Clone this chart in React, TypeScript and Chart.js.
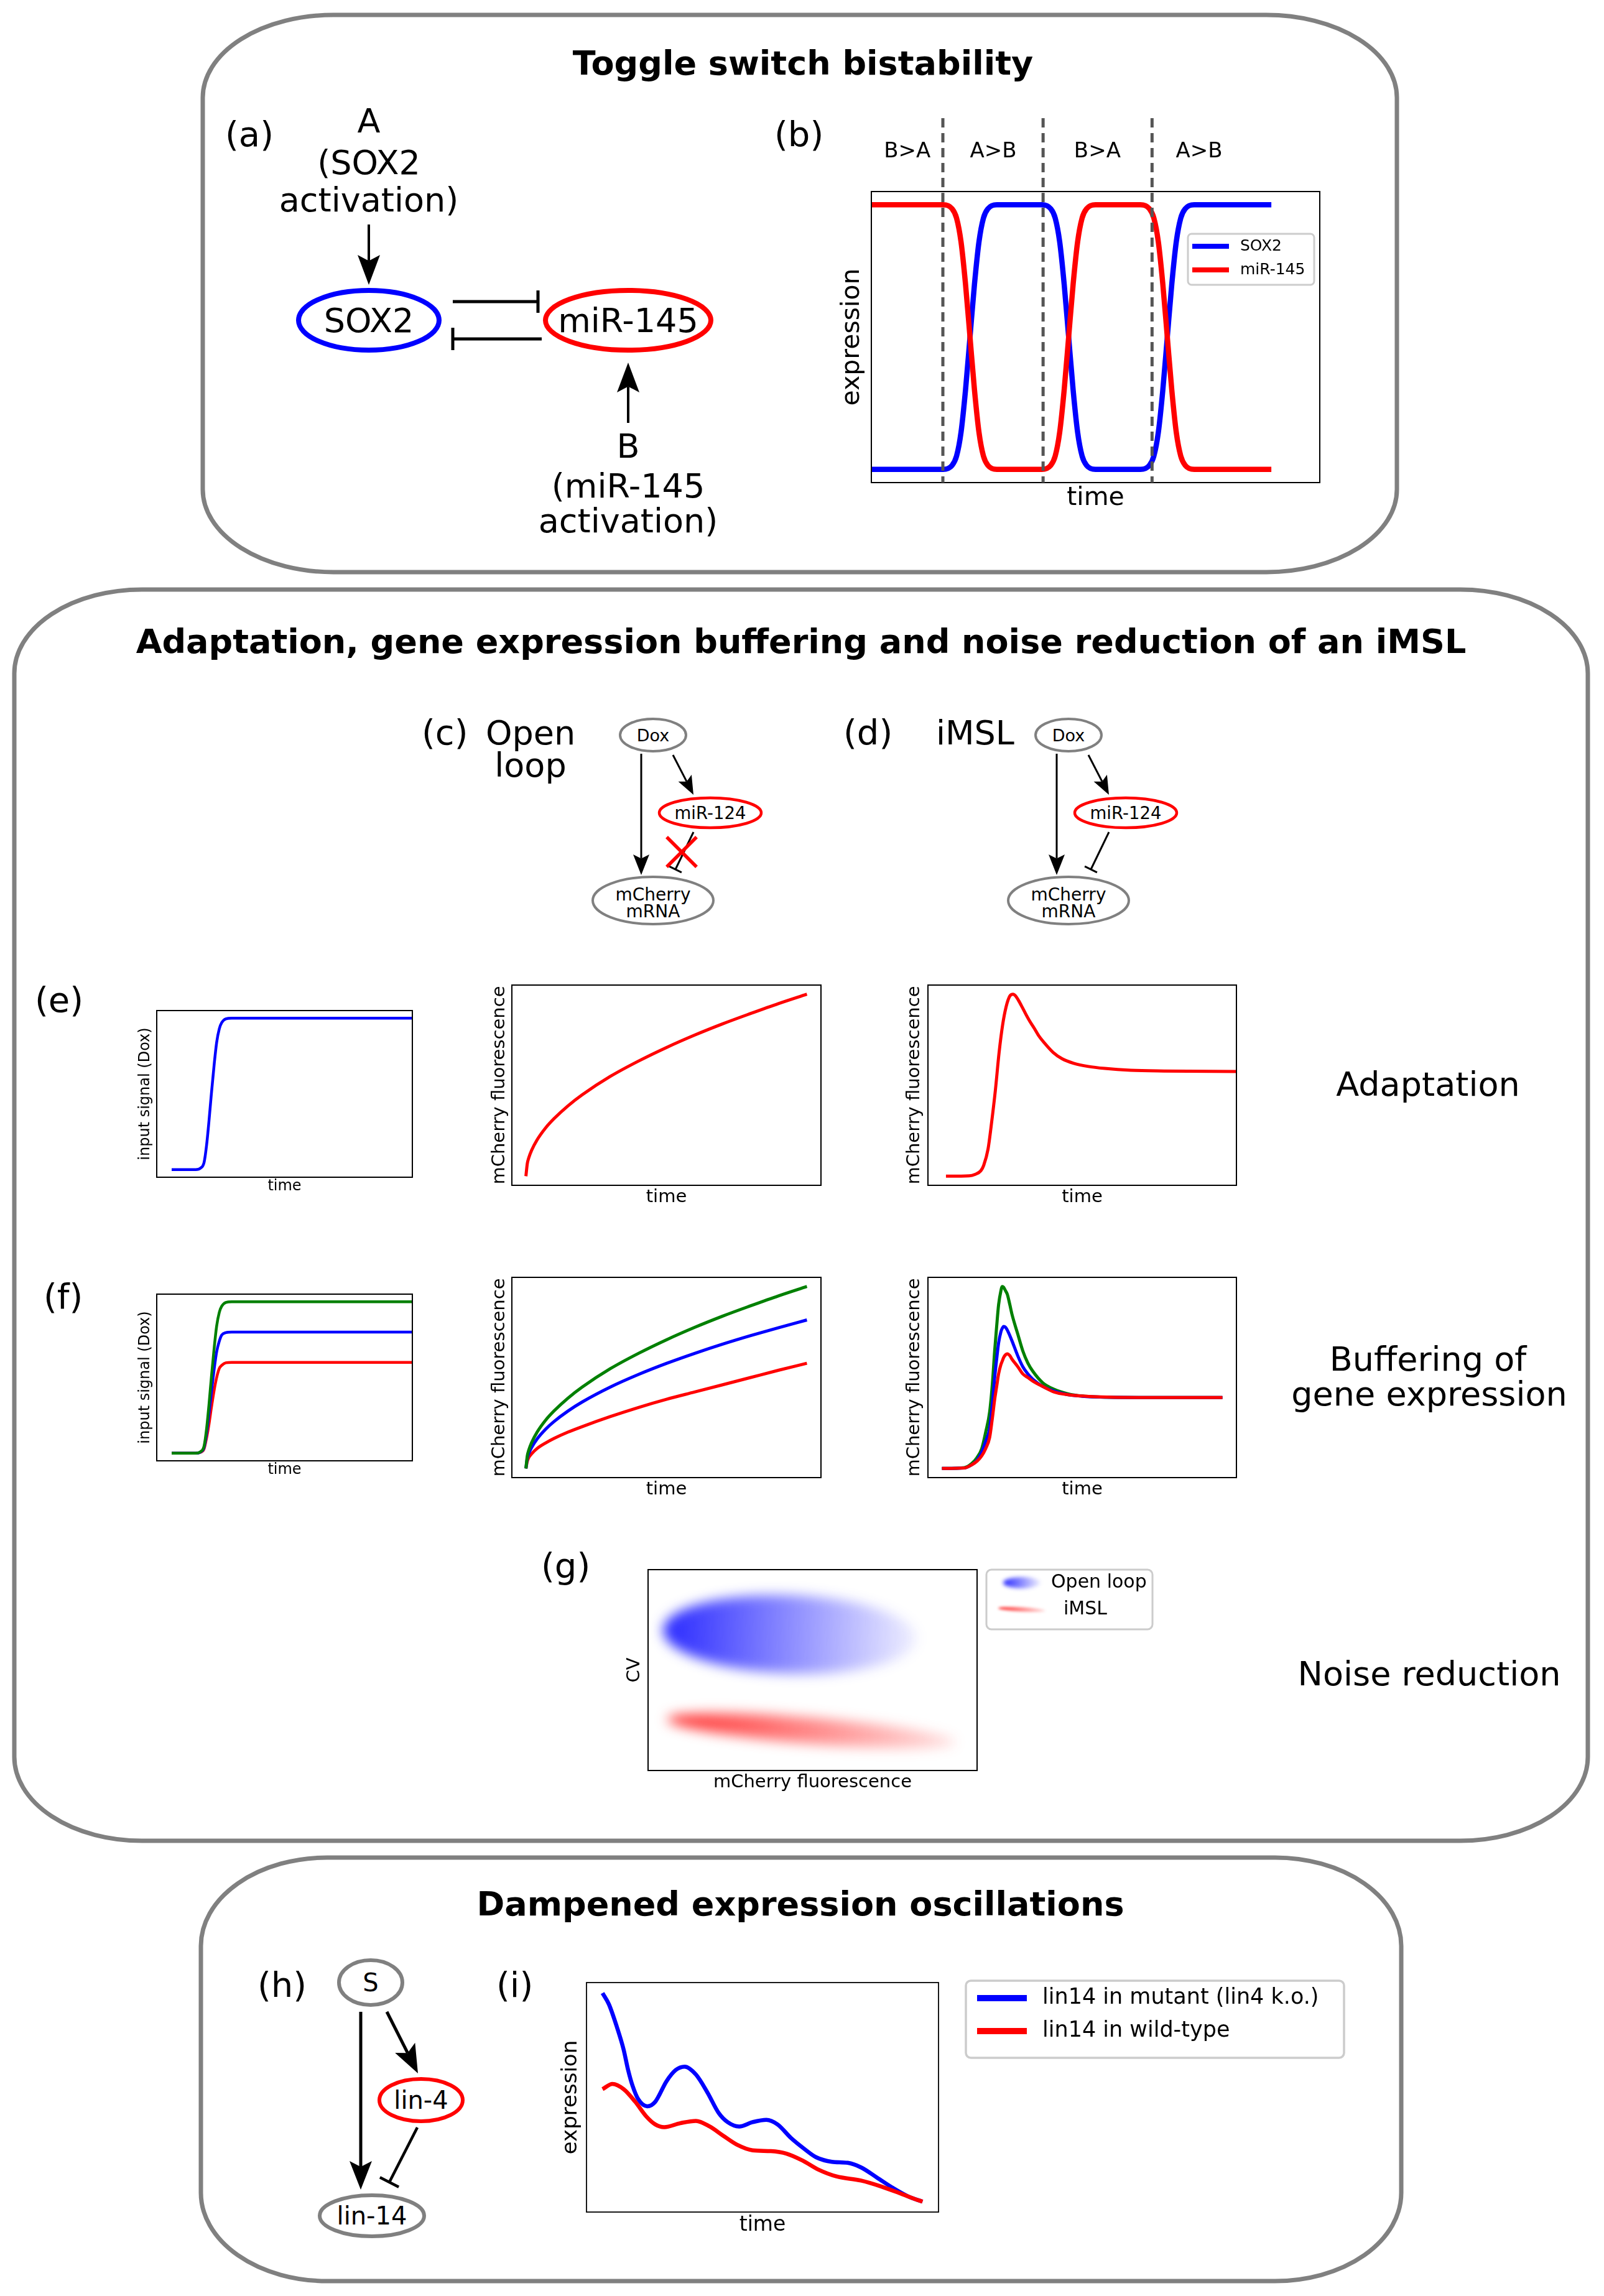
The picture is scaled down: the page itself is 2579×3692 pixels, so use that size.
import React, { useEffect, useRef } from "react";
import { Chart, registerables } from "chart.js";

Chart.register(...registerables);

const FONT = '"DejaVu Sans", "Liberation Sans", sans-serif';
Chart.defaults.font.family = FONT;
Chart.defaults.color = "#000";

// ================= DATA =================
// (b) toggle switch
const toggleTime = [0, 15, 16, 18, 19, 20, 21, 22, 23, 24, 25, 26, 28, 38, 40, 41, 42, 43, 44, 45, 46, 47, 48, 50, 60, 62, 63, 64, 65, 66, 67, 68, 69, 70, 72, 89.2];
const toggleSox2 = [0, 0, 0, 0.015, 0.05, 0.14, 0.3, 0.5, 0.7, 0.86, 0.95, 0.985, 1, 1, 0.985, 0.95, 0.86, 0.7, 0.5, 0.3, 0.14, 0.05, 0.015, 0, 0, 0.015, 0.05, 0.14, 0.3, 0.5, 0.7, 0.86, 0.95, 0.985, 1, 1];
const toggleMir145 = [1, 1, 1, 0.985, 0.95, 0.86, 0.7, 0.5, 0.3, 0.14, 0.05, 0.015, 0, 0, 0.015, 0.05, 0.14, 0.3, 0.5, 0.7, 0.86, 0.95, 0.985, 1, 1, 0.985, 0.95, 0.86, 0.7, 0.5, 0.3, 0.14, 0.05, 0.015, 0, 0];
const phaseBounds = [15.95, 38.3, 62.6];
const phaseNames = ["B>A", "A>B", "B>A", "A>B"];
const phaseNameAt = [8, 27.2, 50.4, 73.1];

// (e)/(f) input signal
const inputTime = [0, 0.1, 0.12, 0.135, 0.145, 0.155, 0.165, 0.177, 0.187, 0.198, 0.208, 0.225, 0.25, 1];
const eInput = [0, 0, 0.01, 0.05, 0.16, 0.32, 0.5, 0.7, 0.84, 0.93, 0.97, 0.995, 1, 1];
const fInputHigh = [0, 0, 0.01, 0.05, 0.16, 0.32, 0.5, 0.7, 0.84, 0.93, 0.97, 0.995, 1, 1];
const fInputMid = [0, 0, 0.008, 0.04, 0.13, 0.26, 0.4, 0.56, 0.67, 0.74, 0.78, 0.796, 0.8, 0.8];
const fInputLow = [0, 0, 0.006, 0.03, 0.1, 0.19, 0.3, 0.42, 0.5, 0.56, 0.58, 0.597, 0.6, 0.6];

// (e)/(f) open loop mCherry
const openTime = [0, 0.005, 0.01, 0.02, 0.04, 0.07, 0.1, 0.15, 0.2, 0.3, 0.4, 0.5, 0.6, 0.7, 0.8, 0.9, 1];
const eOpen = [0, 0.07, 0.1, 0.141, 0.2, 0.265, 0.316, 0.387, 0.447, 0.548, 0.632, 0.707, 0.775, 0.837, 0.894, 0.949, 1];
const fOpenHigh = [0, 0.07, 0.1, 0.141, 0.2, 0.265, 0.316, 0.387, 0.447, 0.548, 0.632, 0.707, 0.775, 0.837, 0.894, 0.949, 1];
const fOpenMid = [0, 0.058, 0.082, 0.115, 0.163, 0.216, 0.258, 0.316, 0.365, 0.447, 0.516, 0.577, 0.632, 0.683, 0.73, 0.774, 0.816];
const fOpenLow = [0, 0.04, 0.06, 0.08, 0.11, 0.14, 0.165, 0.2, 0.23, 0.285, 0.335, 0.38, 0.42, 0.46, 0.5, 0.54, 0.578];

// (e) iMSL mCherry
const eImslTime = [0, 0.08, 0.1, 0.12, 0.13, 0.145, 0.156, 0.17, 0.183, 0.195, 0.207, 0.22, 0.231, 0.24, 0.25, 0.262, 0.275, 0.289, 0.305, 0.32, 0.34, 0.369, 0.4, 0.44, 0.49, 0.547, 0.636, 0.75, 1];
const eImsl = [0, 0.002, 0.01, 0.03, 0.06, 0.15, 0.28, 0.47, 0.68, 0.83, 0.93, 0.99, 1.0, 0.99, 0.965, 0.93, 0.89, 0.85, 0.81, 0.77, 0.73, 0.68, 0.645, 0.62, 0.603, 0.592, 0.582, 0.578, 0.575];

// (f) iMSL mCherry
const fImslTime = [0, 0.08, 0.106, 0.125, 0.142, 0.156, 0.17, 0.18, 0.188, 0.195, 0.202, 0.21, 0.215, 0.22, 0.227, 0.233, 0.242, 0.25, 0.27, 0.288, 0.306, 0.324, 0.36, 0.4, 0.45, 0.5, 0.55, 0.7, 1];
const fImslHigh = [0, 0.005, 0.027, 0.06, 0.11, 0.2, 0.31, 0.47, 0.647, 0.78, 0.9, 0.975, 1.0, 0.995, 0.975, 0.957, 0.9, 0.845, 0.74, 0.647, 0.58, 0.534, 0.47, 0.435, 0.41, 0.398, 0.393, 0.39, 0.39];
const fImslMid = [0, 0.003, 0.02, 0.045, 0.09, 0.15, 0.22, 0.36, 0.5, 0.6, 0.69, 0.75, 0.77, 0.78, 0.775, 0.76, 0.73, 0.7, 0.62, 0.56, 0.52, 0.49, 0.45, 0.425, 0.405, 0.397, 0.393, 0.39, 0.39];
const fImslLow = [0, 0.003, 0.02, 0.04, 0.07, 0.11, 0.17, 0.28, 0.38, 0.45, 0.52, 0.57, 0.59, 0.61, 0.625, 0.63, 0.62, 0.6, 0.56, 0.52, 0.5, 0.48, 0.45, 0.42, 0.405, 0.398, 0.394, 0.39, 0.39];

// (g) noise clouds
const cloudNames = ["Open loop", "iMSL"];
const cloudCenterX = [0.431, 0.497];
const cloudCenterY = [0.678, 0.198];
const cloudSpreadX = [0.385, 0.44];
const cloudSpreadY = [0.195, 0.065];
const cloudTiltDeg = [2, 4.6];

// (i) dampened oscillations
const mutantTime = [0, 0.02, 0.045, 0.066, 0.08, 0.094, 0.112, 0.14, 0.165, 0.2, 0.229, 0.257, 0.292, 0.328, 0.363, 0.391, 0.427, 0.469, 0.512, 0.547, 0.589, 0.632, 0.667, 0.717, 0.766, 0.808, 0.858, 0.907, 0.955, 1];
const mutantLin14 = [1.0, 0.946, 0.837, 0.729, 0.631, 0.555, 0.49, 0.457, 0.479, 0.577, 0.631, 0.647, 0.609, 0.523, 0.425, 0.381, 0.36, 0.381, 0.392, 0.37, 0.305, 0.251, 0.213, 0.191, 0.186, 0.164, 0.115, 0.066, 0.025, 0];
const wildTime = [0, 0.031, 0.066, 0.102, 0.137, 0.165, 0.193, 0.243, 0.292, 0.335, 0.377, 0.42, 0.469, 0.526, 0.575, 0.625, 0.674, 0.731, 0.808, 0.872, 0.929, 0.977, 1];
const wildLin14 = [0.539, 0.564, 0.539, 0.479, 0.408, 0.37, 0.357, 0.376, 0.387, 0.36, 0.316, 0.273, 0.246, 0.242, 0.23, 0.197, 0.154, 0.121, 0.101, 0.072, 0.04, 0.012, 0];

// ================= HELPERS =================
type Box = { l: number; t: number; r: number; b: number };

const BLUE = "#0000ff";
const RED = "#ff0000";
const GREEN = "#008000";

function pts(xs: number[], ys: number[]) {
  return xs.map((x, i) => ({ x, y: ys[i] }));
}

function lineDs(label: string, xs: number[], ys: number[], color: string, width: number, order = 0) {
  return {
    label,
    data: pts(xs, ys),
    borderColor: color,
    backgroundColor: color,
    borderWidth: width,
    pointRadius: 0,
    pointHoverRadius: 0,
    cubicInterpolationMode: "monotone",
    fill: false,
    order,
  };
}

const framePlugin = {
  id: "frame",
  afterDatasetsDraw(chart: any, _a: any, o: any) {
    const { ctx, chartArea: a } = chart;
    ctx.save();
    ctx.strokeStyle = "#000";
    ctx.lineWidth = (o && o.width) || 2;
    ctx.strokeRect(a.left, a.top, a.right - a.left, a.bottom - a.top);
    ctx.restore();
  },
};

const phasePlugin = {
  id: "phases",
  afterDatasetsDraw(chart: any, _a: any, o: any) {
    if (!o || !o.bounds) return;
    const { ctx, chartArea: a } = chart;
    const x = chart.scales.x;
    ctx.save();
    ctx.strokeStyle = o.color;
    ctx.lineWidth = o.width;
    ctx.setLineDash(o.dash);
    o.bounds.forEach((v: number) => {
      const px = x.getPixelForValue(v);
      ctx.beginPath();
      ctx.moveTo(px, a.top - o.above);
      ctx.lineTo(px, a.bottom);
      ctx.stroke();
    });
    ctx.setLineDash([]);
    ctx.fillStyle = "#000";
    ctx.font = `${o.fontSize}px ${FONT}`;
    ctx.textAlign = "center";
    ctx.textBaseline = "alphabetic";
    o.labels.forEach((s: string, i: number) => {
      ctx.fillText(s, x.getPixelForValue(o.labelAt[i]), a.top - o.labelRise);
    });
    ctx.restore();
  },
};

const lineLegendPlugin = {
  id: "lineLegend",
  afterDraw(chart: any, _a: any, o: any) {
    if (!o || !o.box) return;
    const ctx = chart.ctx;
    ctx.save();
    ctx.beginPath();
    ctx.roundRect(o.box.l, o.box.t, o.box.r - o.box.l, o.box.b - o.box.t, o.radius);
    ctx.fillStyle = "#ffffff";
    ctx.fill();
    ctx.strokeStyle = "#cccccc";
    ctx.lineWidth = o.borderWidth;
    ctx.stroke();
    ctx.font = `${o.fontSize}px ${FONT}`;
    ctx.textBaseline = "middle";
    ctx.textAlign = "left";
    chart.data.datasets.forEach((ds: any, i: number) => {
      const y = o.rows[i];
      ctx.strokeStyle = ds.borderColor;
      ctx.lineWidth = o.lineWidth;
      ctx.beginPath();
      ctx.moveTo(o.lineX[0], y);
      ctx.lineTo(o.lineX[1], y);
      ctx.stroke();
      ctx.fillStyle = "#000";
      ctx.fillText(ds.label, o.textX, y);
    });
    ctx.restore();
  },
};

function drawCloud(ctx: any, cx: number, cy: number, rx: number, ry: number, tilt: number, rgb: string, a0: number, a1: number, blur: number) {
  ctx.save();
  ctx.filter = `blur(${blur}px)`;
  ctx.translate(cx, cy);
  ctx.rotate((tilt * Math.PI) / 180);
  const g = ctx.createLinearGradient(-rx, 0, rx, 0);
  g.addColorStop(0, `rgba(${rgb},${a0})`);
  g.addColorStop(1, `rgba(${rgb},${a1})`);
  ctx.fillStyle = g;
  ctx.beginPath();
  ctx.ellipse(0, 0, rx, ry, 0, 0, Math.PI * 2);
  ctx.fill();
  ctx.restore();
}

const cloudPlugin = {
  id: "clouds",
  beforeDatasetsDraw(chart: any, _a: any, o: any) {
    if (!o) return;
    const { ctx, chartArea: a } = chart;
    const xs = chart.scales.x;
    const ys = chart.scales.y;
    ctx.save();
    ctx.beginPath();
    ctx.rect(a.left, a.top, a.right - a.left, a.bottom - a.top);
    ctx.clip();
    chart.data.datasets.forEach((ds: any) => {
      const p = ds.data[0];
      const cx = xs.getPixelForValue(p.x);
      const cy = ys.getPixelForValue(p.y);
      const rx = Math.abs(xs.getPixelForValue(p.x + ds.spreadX) - cx);
      const ry = Math.abs(ys.getPixelForValue(p.y + ds.spreadY) - cy);
      drawCloud(ctx, cx, cy, rx, ry, ds.tilt, ds.cloudRgb, ds.alphaFrom, ds.alphaTo, o.blur);
    });
    ctx.restore();
  },
  afterDraw(chart: any, _a: any, o: any) {
    if (!o || !o.legend) return;
    const L = o.legend;
    const ctx = chart.ctx;
    ctx.save();
    ctx.beginPath();
    ctx.roundRect(L.box.l, L.box.t, L.box.r - L.box.l, L.box.b - L.box.t, 8);
    ctx.fillStyle = "#fff";
    ctx.fill();
    ctx.strokeStyle = "#cccccc";
    ctx.lineWidth = 3;
    ctx.stroke();
    ctx.restore();
    chart.data.datasets.forEach((ds: any, i: number) => {
      const ic = L.icons[i];
      drawCloud(ctx, ic.x, ic.y, ic.rx, ic.ry, ic.tilt, ds.cloudRgb, ds.alphaFrom, ds.alphaTo, ic.blur);
      ctx.save();
      ctx.fillStyle = "#000";
      ctx.font = `${L.fontSize}px ${FONT}`;
      ctx.textBaseline = "middle";
      ctx.textAlign = "left";
      ctx.fillText(ds.label, L.textX[i], ic.y);
      ctx.restore();
    });
  },
};

function makeConfig(p: any) {
  const { box, canvas } = p;
  const padding = {
    left: box.l - canvas.l - p.yGap - p.yFont / 2,
    right: canvas.r - box.r,
    top: box.t - canvas.t,
    bottom: canvas.b - box.b - p.xGap - p.xFont / 2,
  };
  return {
    type: "line",
    data: { datasets: p.datasets },
    options: {
      animation: false,
      responsive: false,
      maintainAspectRatio: false,
      devicePixelRatio: 1,
      events: [],
      layout: { padding, autoPadding: false },
      scales: {
        x: {
          type: "linear",
          min: p.xRange[0],
          max: p.xRange[1],
          grid: { display: false, drawTicks: false },
          border: { display: false },
          ticks: { display: false },
          title: {
            display: true,
            text: p.xTitle,
            color: "#000",
            font: { family: FONT, size: p.xFont, lineHeight: 1 },
            padding: { top: p.xGap - p.xFont / 2, bottom: 0 },
          },
        },
        y: {
          type: "linear",
          min: p.yRange[0],
          max: p.yRange[1],
          grid: { display: false, drawTicks: false },
          border: { display: false },
          ticks: { display: false },
          title: {
            display: true,
            text: p.yTitle,
            color: "#000",
            font: { family: FONT, size: p.yFont, lineHeight: 1 },
            padding: { top: 0, bottom: p.yGap - p.yFont / 2 },
          },
        },
      },
      plugins: {
        legend: { display: false },
        tooltip: { enabled: false },
        frame: { width: p.frameWidth || 2 },
        ...(p.pluginOpts || {}),
      },
    },
    plugins: [framePlugin, ...(p.plugins || [])],
  };
}

function ChartBox({ canvas, build }: { canvas: Box; build: () => any }) {
  const ref = useRef<HTMLCanvasElement>(null);
  useEffect(() => {
    const c = new Chart(ref.current as HTMLCanvasElement, build());
    return () => c.destroy();
  }, []);
  const w = canvas.r - canvas.l;
  const h = canvas.b - canvas.t;
  return (
    <canvas
      ref={ref}
      width={w}
      height={h}
      style={{ position: "absolute", left: canvas.l, top: canvas.t, width: w, height: h }}
    />
  );
}

// ================= CHART DEFINITIONS =================
const toggleBox: Box = { l: 1401, t: 308, r: 2122, b: 776 };
const toggleCanvas: Box = { l: 1345, t: 180, r: 2130, b: 826 };
const buildToggle = () =>
  makeConfig({
    box: toggleBox,
    canvas: toggleCanvas,
    datasets: [
      lineDs("SOX2", toggleTime, toggleSox2, BLUE, 8.5, 1),
      lineDs("miR-145", toggleTime, toggleMir145, RED, 8.5, 0),
    ],
    xRange: [0, 100],
    yRange: [-0.05, 1.05],
    xTitle: "time",
    xFont: 41,
    xGap: 25,
    yTitle: "expression",
    yFont: 41,
    yGap: 31,
    plugins: [phasePlugin, lineLegendPlugin],
    pluginOpts: {
      phases: {
        bounds: phaseBounds,
        labels: phaseNames,
        labelAt: phaseNameAt,
        color: "#555555",
        width: 5,
        dash: [15, 9],
        above: 118,
        labelRise: 55,
        fontSize: 34,
      },
      lineLegend: {
        box: { l: 1910 - 1345, t: 376 - 180, r: 2113 - 1345, b: 458 - 180 },
        radius: 6,
        borderWidth: 3,
        rows: [396 - 180, 434 - 180],
        lineX: [1917 - 1345, 1976 - 1345],
        lineWidth: 8,
        textX: 1994 - 1345,
        fontSize: 25,
      },
    },
  });

const inputAxes = { xTitle: "time", xFont: 24, xGap: 15, yTitle: "input signal (Dox)", yFont: 24, yGap: 18 };
const fluoAxesOpen = { xTitle: "time", xFont: 29, xGap: 19, yTitle: "mCherry fluorescence", yFont: 29, yGap: 20 };
const fluoAxesImsl = { xTitle: "time", xFont: 29, xGap: 19, yTitle: "mCherry fluorescence", yFont: 29, yGap: 22 };

const eInputBox: Box = { l: 252, t: 1625, r: 663, b: 1893 };
const eInputCanvas: Box = { l: 218, t: 1615, r: 673, b: 1924 };
const buildEInput = () =>
  makeConfig({
    box: eInputBox,
    canvas: eInputCanvas,
    datasets: [lineDs("input", inputTime, eInput, BLUE, 4.5)],
    xRange: [-0.062, 1],
    yRange: [-0.05, 1.05],
    ...inputAxes,
  });

const eOpenBox: Box = { l: 823, t: 1584, r: 1320, b: 1906 };
const eOpenCanvas: Box = { l: 784, t: 1574, r: 1330, b: 1944 };
const buildEOpen = () =>
  makeConfig({
    box: eOpenBox,
    canvas: eOpenCanvas,
    datasets: [lineDs("open loop", openTime, eOpen, RED, 5)],
    xRange: [-0.05, 1.05],
    yRange: [-0.05, 1.05],
    ...fluoAxesOpen,
  });

const eImslBox: Box = { l: 1492, t: 1584, r: 1988, b: 1906 };
const eImslCanvas: Box = { l: 1451, t: 1574, r: 1998, b: 1944 };
const buildEImsl = () =>
  makeConfig({
    box: eImslBox,
    canvas: eImslCanvas,
    datasets: [lineDs("iMSL", eImslTime, eImsl, RED, 5)],
    xRange: [-0.062, 1],
    yRange: [-0.05, 1.05],
    ...fluoAxesImsl,
  });

const fInputBox: Box = { l: 252, t: 2081, r: 663, b: 2349 };
const fInputCanvas: Box = { l: 218, t: 2071, r: 673, b: 2380 };
const buildFInput = () =>
  makeConfig({
    box: fInputBox,
    canvas: fInputCanvas,
    datasets: [
      lineDs("high", inputTime, fInputHigh, GREEN, 4.5, 0),
      lineDs("mid", inputTime, fInputMid, BLUE, 4.5, 1),
      lineDs("low", inputTime, fInputLow, RED, 4.5, 2),
    ],
    xRange: [-0.062, 1],
    yRange: [-0.05, 1.05],
    ...inputAxes,
  });

const fOpenBox: Box = { l: 823, t: 2054, r: 1320, b: 2376 };
const fOpenCanvas: Box = { l: 784, t: 2044, r: 1330, b: 2414 };
const buildFOpen = () =>
  makeConfig({
    box: fOpenBox,
    canvas: fOpenCanvas,
    datasets: [
      lineDs("high", openTime, fOpenHigh, GREEN, 5, 0),
      lineDs("mid", openTime, fOpenMid, BLUE, 5, 1),
      lineDs("low", openTime, fOpenLow, RED, 5, 2),
    ],
    xRange: [-0.05, 1.05],
    yRange: [-0.05, 1.05],
    ...fluoAxesOpen,
  });

const fImslBox: Box = { l: 1492, t: 2054, r: 1988, b: 2376 };
const fImslCanvas: Box = { l: 1451, t: 2044, r: 1998, b: 2414 };
const buildFImsl = () =>
  makeConfig({
    box: fImslBox,
    canvas: fImslCanvas,
    datasets: [
      lineDs("high", fImslTime, fImslHigh, GREEN, 5, 2),
      lineDs("mid", fImslTime, fImslMid, BLUE, 5, 1),
      lineDs("low", fImslTime, fImslLow, RED, 5, 0),
    ],
    xRange: [-0.05, 1.05],
    yRange: [-0.05, 1.05],
    ...fluoAxesImsl,
  });

const gBox: Box = { l: 1042, t: 2524, r: 1571, b: 2847 };
const gCanvas: Box = { l: 1001, t: 2514, r: 1870, b: 2885 };
const cloudStyles = [
  { rgb: "30,30,255", a0: 0.95, a1: 0.07 },
  { rgb: "255,40,40", a0: 0.95, a1: 0.14 },
];
const buildG = () =>
  makeConfig({
    box: gBox,
    canvas: gCanvas,
    datasets: cloudNames.map((name, i) => ({
      label: name,
      data: [{ x: cloudCenterX[i], y: cloudCenterY[i] }],
      showLine: false,
      pointRadius: 0,
      spreadX: cloudSpreadX[i],
      spreadY: cloudSpreadY[i],
      tilt: cloudTiltDeg[i],
      cloudRgb: cloudStyles[i].rgb,
      alphaFrom: cloudStyles[i].a0,
      alphaTo: cloudStyles[i].a1,
    })),
    xRange: [0, 1],
    yRange: [0, 1],
    xTitle: "mCherry fluorescence",
    xFont: 29,
    xGap: 19,
    yTitle: "CV",
    yFont: 29,
    yGap: 22,
    plugins: [cloudPlugin],
    pluginOpts: {
      clouds: {
        blur: 10,
        legend: {
          box: { l: 1586 - 1001, t: 2524 - 2514, r: 1853 - 1001, b: 2620 - 2514 },
          icons: [
            { x: 1643 - 1001, y: 2545 - 2514, rx: 30, ry: 9, tilt: 0, blur: 3 },
            { x: 1643 - 1001, y: 2588 - 2514, rx: 38, ry: 3.5, tilt: 3, blur: 2 },
          ],
          textX: [1690 - 1001, 1710 - 1001],
          fontSize: 30,
        },
      },
    },
  });

const iBox: Box = { l: 943, t: 3188, r: 1509, b: 3557 };
const iCanvas: Box = { l: 897, t: 3178, r: 2175, b: 3599 };
const buildI = () =>
  makeConfig({
    box: iBox,
    canvas: iCanvas,
    datasets: [
      lineDs("lin14 in mutant (lin4 k.o.)", mutantTime, mutantLin14, BLUE, 6.5, 1),
      lineDs("lin14 in wild-type", wildTime, wildLin14, RED, 6.5, 0),
    ],
    xRange: [-0.05, 1.05],
    yRange: [-0.05, 1.05],
    xTitle: "time",
    xFont: 33,
    xGap: 21,
    yTitle: "expression",
    yFont: 34,
    yGap: 25,
    frameWidth: 1.8,
    plugins: [lineLegendPlugin],
    pluginOpts: {
      lineLegend: {
        box: { l: 1553 - 897, t: 3185 - 3178, r: 2161 - 897, b: 3309 - 3178 },
        radius: 8,
        borderWidth: 3.5,
        rows: [3213 - 3178, 3266 - 3178],
        lineX: [1571 - 897, 1651 - 897],
        lineWidth: 10,
        textX: 1676 - 897,
        fontSize: 35,
      },
    },
  });

// ================= DIAGRAM PIECES (SVG) =================
function Arrow({ x1, y1, x2, y2, w, len, hw }: any) {
  const dx = x2 - x1;
  const dy = y2 - y1;
  const L = Math.hypot(dx, dy);
  const ux = dx / L;
  const uy = dy / L;
  const px = -uy;
  const py = ux;
  const bx = x2 - ux * len;
  const by = y2 - uy * len;
  const nx = x2 - ux * len * 0.8;
  const ny = y2 - uy * len * 0.8;
  return (
    <g>
      <line x1={x1} y1={y1} x2={nx} y2={ny} stroke="#000" strokeWidth={w} />
      <polygon
        points={`${x2},${y2} ${bx + px * hw},${by + py * hw} ${nx},${ny} ${bx - px * hw},${by - py * hw}`}
        fill="#000"
      />
    </g>
  );
}

function Inhib({ x1, y1, x2, y2, w, bar }: any) {
  const dx = x2 - x1;
  const dy = y2 - y1;
  const L = Math.hypot(dx, dy);
  const px = -dy / L;
  const py = dx / L;
  return (
    <g>
      <line x1={x1} y1={y1} x2={x2} y2={y2} stroke="#000" strokeWidth={w} />
      <line x1={x2 + px * bar} y1={y2 + py * bar} x2={x2 - px * bar} y2={y2 - py * bar} stroke="#000" strokeWidth={w} />
    </g>
  );
}

function Txt({ x, y, size, children, anchor = "start", bold = false }: any) {
  return (
    <text x={x} y={y} fontFamily={FONT} fontSize={size} fill="#000" textAnchor={anchor} fontWeight={bold ? "bold" : "normal"}>
      {children}
    </text>
  );
}

function Node({ cx, cy, rx, ry, color, sw, label, size, dy }: any) {
  return (
    <g>
      <ellipse cx={cx} cy={cy} rx={rx} ry={ry} fill="none" stroke={color} strokeWidth={sw} />
      {Array.isArray(label) ? (
        label.map((s: string, i: number) => (
          <Txt key={i} x={cx} y={cy + dy[i]} size={size} anchor="middle">
            {s}
          </Txt>
        ))
      ) : (
        <Txt x={cx} y={cy + dy} size={size} anchor="middle">
          {label}
        </Txt>
      )}
    </g>
  );
}

function MiniLoop({ ox, closed }: { ox: number; closed: boolean }) {
  const GRAY = "#808080";
  return (
    <g>
      <Node cx={1050 + ox} cy={1182} rx={53} ry={26} color={GRAY} sw={4} label="Dox" size={27} dy={10} />
      <Node cx={1142 + ox} cy={1307} rx={82} ry={24} color={RED} sw={4.5} label="miR-124" size={27.5} dy={10} />
      <Node cx={1050 + ox} cy={1448} rx={97} ry={38} color={GRAY} sw={4} label={["mCherry", "mRNA"]} size={28} dy={[0, 27]} />
      <Arrow x1={1031 + ox} y1={1212} x2={1031 + ox} y2={1407} w={3} len={33} hw={13} />
      <Arrow x1={1082 + ox} y1={1214} x2={1115 + ox} y2={1278} w={3} len={30} hw={12} />
      <Inhib x1={1115 + ox} y1={1338} x2={1086 + ox} y2={1398} w={3} bar={11} />
      {!closed && (
        <g stroke={RED} strokeWidth={5.5}>
          <line x1={1072 + ox} y1={1346} x2={1120 + ox} y2={1394} />
          <line x1={1120 + ox} y1={1346} x2={1072 + ox} y2={1394} />
        </g>
      )}
    </g>
  );
}

function Diagrams() {
  const GRAY = "#808080";
  return (
    <svg width={2579} height={3692} style={{ position: "absolute", left: 0, top: 0 }}>
      {/* panels */}
      <rect x={326} y={24} width={1920} height={896} rx={210} ry={133} fill="none" stroke={GRAY} strokeWidth={7} />
      <rect x={23} y={948} width={2530} height={2012} rx={205} ry={135} fill="none" stroke={GRAY} strokeWidth={7} />
      <rect x={323} y={2987} width={1930} height={681} rx={203} ry={142} fill="none" stroke={GRAY} strokeWidth={7} />

      {/* titles */}
      <Txt x={1291} y={120} size={54} anchor="middle" bold>
        Toggle switch bistability
      </Txt>
      <Txt x={1288} y={1050} size={54} anchor="middle" bold>
        Adaptation, gene expression buffering and noise reduction of an iMSL
      </Txt>
      <Txt x={1287} y={3080} size={54} anchor="middle" bold>
        Dampened expression oscillations
      </Txt>

      {/* (a) */}
      <Txt x={362} y={235} size={56}>(a)</Txt>
      <Txt x={593} y={213} size={54} anchor="middle">A</Txt>
      <Txt x={593} y={280} size={54} anchor="middle">(SOX2</Txt>
      <Txt x={593} y={340} size={54} anchor="middle">activation)</Txt>
      <Arrow x1={593} y1={361} x2={593} y2={458} w={4} len={48} hw={18} />
      <Node cx={593} cy={515} rx={113} ry={48} color={BLUE} sw={8} label="SOX2" size={54} dy={19} />
      <Node cx={1010} cy={515} rx={133} ry={48} color={RED} sw={8} label="miR-145" size={54} dy={19} />
      <Inhib x1={728} y1={485} x2={865} y2={485} w={5} bar={18} />
      <Inhib x1={871} y1={545} x2={728} y2={545} w={5} bar={18} />
      <Arrow x1={1010} y1={680} x2={1010} y2={583} w={4} len={48} hw={18} />
      <Txt x={1010} y={736} size={54} anchor="middle">B</Txt>
      <Txt x={1010} y={800} size={54} anchor="middle">(miR-145</Txt>
      <Txt x={1010} y={856} size={54} anchor="middle">activation)</Txt>
      <Txt x={1245} y={235} size={56}>(b)</Txt>

      {/* (c) and (d) */}
      <Txt x={678} y={1197} size={56}>(c)</Txt>
      <Txt x={853} y={1197} size={54} anchor="middle">Open</Txt>
      <Txt x={853} y={1249} size={54} anchor="middle">loop</Txt>
      <MiniLoop ox={0} closed={false} />
      <Txt x={1356} y={1197} size={56}>(d)</Txt>
      <Txt x={1505} y={1197} size={54}>iMSL</Txt>
      <MiniLoop ox={668} closed={true} />

      {/* row labels */}
      <Txt x={56} y={1627} size={56}>(e)</Txt>
      <Txt x={70} y={2104} size={56}>(f)</Txt>
      <Txt x={870} y={2537} size={56}>(g)</Txt>
      <Txt x={2296} y={1762} size={54} anchor="middle">Adaptation</Txt>
      <Txt x={2296} y={2204} size={54} anchor="middle">Buffering of</Txt>
      <Txt x={2298} y={2260} size={54} anchor="middle">gene expression</Txt>
      <Txt x={2298} y={2710} size={54} anchor="middle">Noise reduction</Txt>

      {/* (h) */}
      <Txt x={414} y={3211} size={56}>(h)</Txt>
      <Node cx={596} cy={3188} rx={51} ry={36} color={GRAY} sw={6} label="S" size={40} dy={14} />
      <Node cx={677} cy={3377} rx={67} ry={34} color={RED} sw={6} label="lin-4" size={40} dy={14} />
      <Node cx={598} cy={3563} rx={84} ry={33} color={GRAY} sw={6} label="lin-14" size={40} dy={14} />
      <Arrow x1={580} y1={3235} x2={580} y2={3521} w={5} len={46} hw={18} />
      <Arrow x1={622} y1={3235} x2={672} y2={3334} w={5} len={46} hw={18} />
      <Inhib x1={671} y1={3421} x2={626} y2={3509} w={4.5} bar={17} />
      <Txt x={798} y={3211} size={56}>(i)</Txt>
    </svg>
  );
}

export default function App() {
  return (
    <div style={{ position: "absolute", left: 0, top: 0, width: 2579, height: 3692, background: "#fff", overflow: "hidden" }}>
      <Diagrams />
      <ChartBox canvas={toggleCanvas} build={buildToggle} />
      <ChartBox canvas={eInputCanvas} build={buildEInput} />
      <ChartBox canvas={eOpenCanvas} build={buildEOpen} />
      <ChartBox canvas={eImslCanvas} build={buildEImsl} />
      <ChartBox canvas={fInputCanvas} build={buildFInput} />
      <ChartBox canvas={fOpenCanvas} build={buildFOpen} />
      <ChartBox canvas={fImslCanvas} build={buildFImsl} />
      <ChartBox canvas={gCanvas} build={buildG} />
      <ChartBox canvas={iCanvas} build={buildI} />
    </div>
  );
}
